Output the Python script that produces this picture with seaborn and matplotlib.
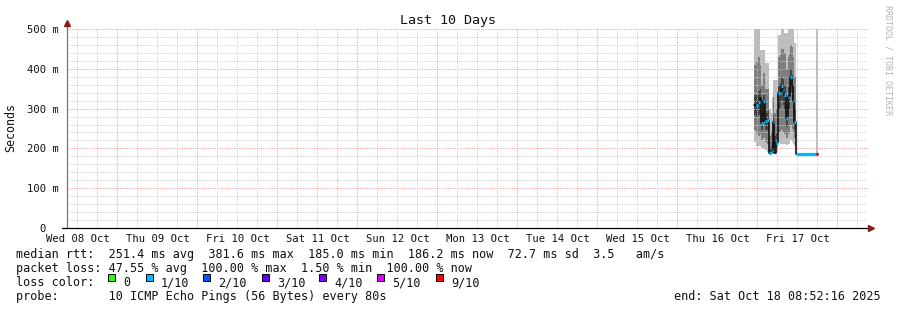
import matplotlib
matplotlib.use("Agg")
import matplotlib.pyplot as plt
import matplotlib.patches as mpatches
import matplotlib.transforms as mtrans
import numpy as np
import pandas as pd
import seaborn as sns

# ---------------- data ----------------
title = "Last 10 Days"
y_label = "Seconds"
y_ticks = [0, 100, 200, 300, 400, 500]
y_tick_labels = ["0  ", "100 m", "200 m", "300 m", "400 m", "500 m"]
day_labels = ["Wed 08 Oct", "Thu 09 Oct", "Fri 10 Oct", "Sat 11 Oct", "Sun 12 Oct",
              "Mon 13 Oct", "Tue 14 Oct", "Wed 15 Oct", "Thu 16 Oct", "Fri 17 Oct"]
first_day_offset = -9            # Wed 08 Oct relative to Fri 17 Oct (days)
# time axis in hours relative to Fri 17 Oct 00:00
x_start_h = -207.13              # Wed 08 Oct 08:52:16
x_end_h = 32.87                  # Sat 18 Oct 08:52:16

# samples (hours rel. Fri 17 Oct 00:00), values in ms
sample_h = [-0.9, -0.45, 0.15, 0.75, 1.05, 1.65, 2.25, 2.85, 3.45, 4.05, 4.5, 4.8, 5.1, 5.55,
            6.15, 6.75, 7.2, 7.65, 8.1, 8.7, 9.15, 9.6, 9.9, 10.35, 10.65, 11.1, 11.55, 17.7]
sample_end_h = 18.3
median_ms = [309, 308, 317, 327, 263, 318, 270, 271, 189, 190, 197, 267, 189, 213,
             340, 340, 356, 347, 334, 276, 330, 331, 380, 357, 320, 267, 185, 185]
loss_pings = [7, 1, 1, 7, 1, 1, 1, 1, 1, 1, 1, 1, 7, 1,
              1, 1, 1, 1, 1, 1, 1, 7, 1, 7, 1, 1, 1, 9]
smoke_min = [215, 205, 205, 205, 200, 198, 195, 192, 186, 186, 188, 188, 186, 190,
             215, 212, 210, 210, 210, 208, 210, 212, 220, 215, 212, 205, 185, 185]
smoke_p20 = [245, 235, 230, 235, 220, 225, 215, 212, 188, 188, 192, 205, 190, 200,
             240, 240, 245, 240, 235, 225, 235, 240, 260, 250, 240, 225, 185, 185]
smoke_p40 = [285, 280, 285, 290, 245, 275, 245, 245, 190, 190, 196, 240, 200, 210,
             300, 305, 320, 310, 300, 255, 295, 300, 340, 325, 295, 250, 185, 185]
smoke_p60 = [335, 335, 345, 350, 290, 335, 290, 295, 200, 205, 215, 285, 230, 240,
             360, 365, 380, 375, 360, 310, 355, 360, 400, 385, 350, 300, 185, 185]
smoke_p80 = [410, 420, 430, 410, 360, 390, 350, 350, 230, 240, 260, 330, 290, 300,
             430, 435, 450, 450, 440, 400, 430, 440, 460, 455, 430, 380, 185, 185]
smoke_max = [500, 500, 500, 447, 447, 447, 415, 415, 300, 290, 330, 372, 372, 372,
             485, 485, 500, 500, 490, 490, 500, 500, 500, 500, 500, 465, 185, 500]

loss_labels = ["0", "1/10", "2/10", "3/10", "4/10", "5/10", "9/10"]
loss_colors = ["#26ff00", "#00b8ff", "#0059ff", "#5e00ff", "#7e00ff", "#dd00ff", "#ff0000"]
loss_color_of = {0: "#26ff00", 1: "#00b8ff", 2: "#0059ff", 3: "#5e00ff", 4: "#7e00ff",
                 5: "#dd00ff", 9: "#ff0000"}

legend_rows = [
    "median rtt:  251.4 ms avg  381.6 ms max  185.0 ms min  186.2 ms now  72.7 ms sd  3.5   am/s",
    "packet loss: 47.55 % avg  100.00 % max  1.50 % min  100.00 % now",
    "loss color:",
    "probe:       10 ICMP Echo Pings (56 Bytes) every 80s",
]
end_text = "end: Sat Oct 18 08:52:16 2025"
credit = "RRDTOOL / TOBI OETIKER"

# ---------------- style ----------------
sns.set_theme(style="white")
plt.rcParams["font.family"] = ["DejaVu Sans Mono", "DejaVu Sans"]

W, H = 897, 310
fig = plt.figure(figsize=(W / 100, H / 100), dpi=100, facecolor="white")
ax = fig.add_axes([67 / W, 1 - 228 / H, 800 / W, 199 / H])
ax.set_facecolor("white")
ax.set_xlim(x_start_h, x_end_h)
ax.set_ylim(0, 500)
for s in ax.spines.values():
    s.set_visible(False)

# grid (dotted, drawn over the smoke like rrdtool)
dot = (0, (1, 1.2))
for v in np.arange(20, 501, 20):
    col = "#f3a0a0" if v % 100 == 0 else "#cdcdcd"
    ax.axhline(v, color=col, lw=0.72, ls=dot, zorder=2.5)
for hh in np.arange(np.ceil(x_start_h / 6) * 6, x_end_h, 6):
    col = "#f3a0a0" if hh % 24 == 0 else "#cdcdcd"
    ax.axvline(hh, color=col, lw=0.72, ls=dot, zorder=2.5)

# smoke
xs = np.array(sample_h + [sample_end_h])
def ext(a):
    return np.array(a + [a[-1]], dtype=float)
ax.fill_between(xs, ext(smoke_min), ext(smoke_max), step="post", color="#bdbdbd", lw=0, zorder=1)
ax.fill_between(xs, ext(smoke_p20), ext(smoke_p80), step="post", color="#7e7e7e", lw=0, zorder=1.2)
ax.fill_between(xs, ext(smoke_p40), ext(smoke_p60), step="post", color="#444444", lw=0, zorder=1.4)

# median line
df = pd.DataFrame({"t": xs, "ms": ext(median_ms)})
sns.lineplot(data=df, x="t", y="ms", ax=ax, color="#101010", lw=1.2,
             drawstyle="steps-post", estimator=None, sort=False, zorder=3)
# loss-colored median segments
for i, (t0, m, lp) in enumerate(zip(sample_h, median_ms, loss_pings)):
    t1 = sample_h[i + 1] if i + 1 < len(sample_h) else sample_end_h
    if lp in loss_color_of:
        ax.hlines(m, t0, t1, color=loss_color_of[lp], lw=2.3, zorder=4)
ax.set_xlabel("")
ax.set_ylabel("")

# axes lines + arrows
ax.plot([0, 0], [0, 1 + 6 / 199], transform=ax.transAxes, color="#777777", lw=0.9,
        clip_on=False, zorder=5)
ax.plot([0], [1 + 6 / 199], marker="^", ms=4, color="#8b1c1c", transform=ax.transAxes,
        clip_on=False, zorder=6, mec="#8b1c1c")
ax.plot([-5 / 800, 1 + 2 / 800], [0, 0], transform=ax.transAxes, color="black", lw=0.9,
        clip_on=False, zorder=5)
ax.plot([1 + 4 / 800], [0], marker=">", ms=4, color="#8b1c1c", transform=ax.transAxes,
        clip_on=False, zorder=6, mec="#8b1c1c")

# y ticks
ax.set_yticks(y_ticks)
ax.set_yticklabels(y_tick_labels)
ax.tick_params(axis="y", length=0, pad=5.5, labelsize=7.6, labelcolor="#111111")
ax.set_xticks([])

# x day labels at noon
blend = mtrans.blended_transform_factory(ax.transData, ax.transAxes)
for k, lab in enumerate(day_labels):
    noon = (first_day_offset + k) * 24 + 12
    ax.text(noon, -(242 - 228) / 199, lab, transform=blend, ha="center", va="baseline",
            fontsize=7.6, color="#111111")

# title, y label, credit
fig.text(447.5 / W, 1 - 24 / H, title, ha="center", va="baseline", fontsize=9.6, color="#111111")
fig.text(11 / W, 1 - 127 / H, y_label, ha="center", va="center", rotation=90,
         fontsize=8.4, color="#111111")
fig.text(888 / W, 1 - 60 / H, credit, ha="center", va="center", rotation=270,
         fontsize=6.0, color="#b4b4b4")

# legend rows
baselines = [258.3, 272.3, 286.3, 300.3]
for txt, b in zip(legend_rows, baselines):
    fig.text(16 / W, 1 - b / H, txt, ha="left", va="baseline", fontsize=8.5, color="#111111")
fig.text(881 / W, 1 - baselines[3] / H, end_text, ha="right", va="baseline", fontsize=8.5,
         color="#111111")

box_x = [108, 146, 203, 262, 319, 377, 436]
for bx, lab, col in zip(box_x, loss_labels, loss_colors):
    fig.patches.append(mpatches.Rectangle((bx / W, 1 - 281 / H), 7 / W, 7 / H,
                                          transform=fig.transFigure, facecolor=col,
                                          edgecolor="black", lw=0.7))
    fig.text((bx + 15) / W, 1 - baselines[2] / H, lab, ha="left", va="baseline",
             fontsize=8.5, color="#111111")

fig.savefig("out.png", dpi=100, facecolor="white")
